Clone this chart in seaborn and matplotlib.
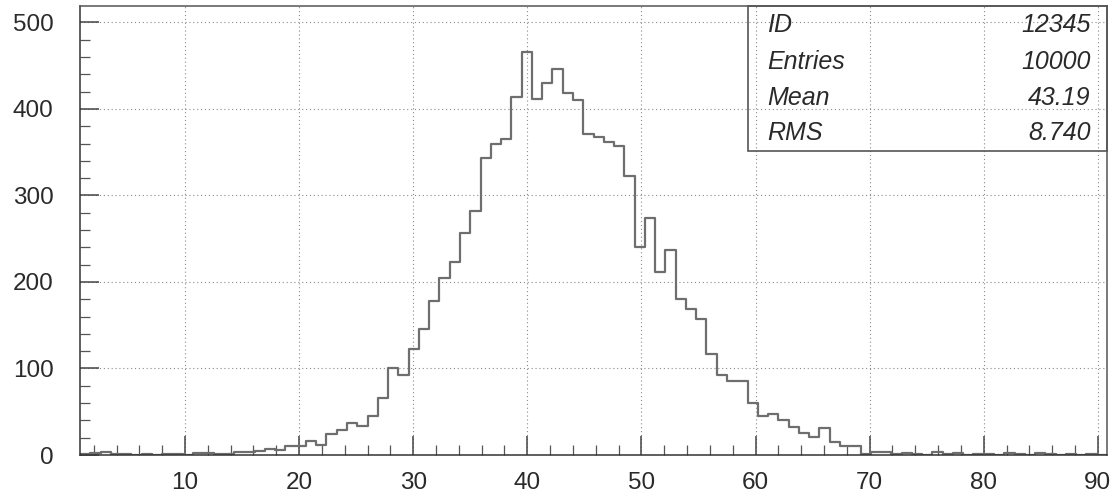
import numpy as np
import pandas as pd
import matplotlib
matplotlib.use("Agg")
import matplotlib.pyplot as plt
from matplotlib.ticker import MultipleLocator
import seaborn as sns

# Histogram definition: 100 equal bins
bin_lo, bin_hi, n_bins = 0.8, 90.8, 100

# Bin contents, left to right
counts = [
    1, 2, 3, 1, 1, 0, 1, 0, 1, 1,
    0, 2, 2, 1, 1, 3, 4, 5, 7, 6,
    10, 10, 16, 12, 24, 29, 37, 33, 45, 66,
    101, 93, 122, 146, 178, 205, 223, 257, 282, 343,
    359, 365, 414, 466, 412, 430, 446, 418, 410, 371,
    367, 362, 357, 322, 241, 274, 212, 237, 180, 169,
    157, 117, 92, 86, 85, 60, 45, 47, 41, 32,
    26, 21, 31, 15, 10, 10, 1, 4, 3, 1,
    2, 1, 0, 4, 1, 2, 0, 1, 1, 0,
    2, 1, 0, 2, 1, 0, 1, 0, 1, 0,
]

# Statistics box
stat_names = ["ID", "Entries", "Mean", "RMS"]
stat_values = ["12345", "10000", "43.19", "8.740"]

x_ticks = [10, 20, 30, 40, 50, 60, 70, 80, 90]
y_ticks = [0, 100, 200, 300, 400, 500]

sns.set_style("white")
plt.rcParams["font.family"] = ["Liberation Sans", "DejaVu Sans"]

edges = np.linspace(bin_lo, bin_hi, n_bins + 1)
centers = 0.5 * (edges[:-1] + edges[1:])
df = pd.DataFrame({"x": centers, "n": counts})

fig = plt.figure(figsize=(11.13, 4.95), dpi=100)
ax = fig.add_axes([80 / 1113, 40 / 495, 1027 / 1113, 449 / 495])

sns.histplot(data=df, x="x", weights="n", bins=n_bins,
             binrange=(bin_lo, bin_hi), element="step",
             fill=False, color="#6e6e6e", linewidth=1.6, ax=ax)

ax.set_xlim(bin_lo, bin_hi)
ax.set_ylim(0, 519)
ax.set_xticks(x_ticks)
ax.set_yticks(y_ticks)
ax.xaxis.set_minor_locator(MultipleLocator(2))
ax.yaxis.set_minor_locator(MultipleLocator(20))
ax.set_xlabel("")
ax.set_ylabel("")

ax.tick_params(axis="both", which="both", bottom=True, left=True,
               top=False, right=False)
ax.tick_params(axis="both", which="major", direction="in", length=14,
               width=1.1, color="#444444", labelsize=17.5,
               labelcolor="#2a2a2a")
ax.tick_params(axis="both", which="minor", direction="in", length=7,
               width=0.9, color="#555555")
ax.tick_params(axis="x", which="major", pad=12)
ax.tick_params(axis="y", which="major", pad=19)

ax.grid(True, which="major", linestyle=(0, (1, 2.5)), color="#8a8a8a",
        linewidth=0.8)
ax.set_axisbelow(True)

for side in ["left", "right", "top", "bottom"]:
    ax.spines[side].set_visible(True)
    ax.spines[side].set_color("#555555")
    ax.spines[side].set_linewidth(1.1)
ax.spines["bottom"].set_color("#333333")
ax.spines["left"].set_color("#333333")

# Statistics box in the upper right corner
box_x0, box_y0 = 0.650, 0.677
ax.add_patch(plt.Rectangle((box_x0, box_y0), 1.0 - box_x0, 1.0 - box_y0,
                           transform=ax.transAxes, fill=False,
                           edgecolor="#555555", linewidth=1.2,
                           clip_on=False, zorder=5))
row_y = [0.958, 0.875, 0.795, 0.717]
for name, val, y in zip(stat_names, stat_values, row_y):
    ax.text(0.669, y, name, transform=ax.transAxes, ha="left", va="center",
            fontsize=18, style="italic", color="#2a2a2a")
    ax.text(0.984, y, val, transform=ax.transAxes, ha="right", va="center",
            fontsize=18, style="italic", color="#2a2a2a")

fig.savefig("out.png", dpi=100)
